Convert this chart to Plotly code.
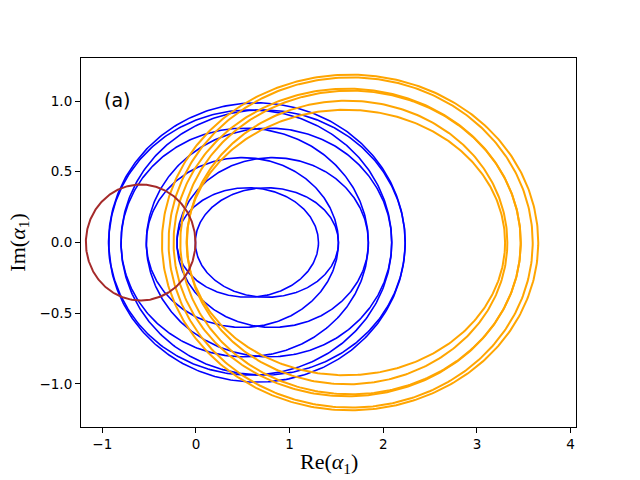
import numpy as np
import plotly.graph_objects as go

# Loop geometry: centre on Re axis, half-width, half-height
blue_center = [0.5525, 0.757, 0.4955, 0.819, 0.52, 0.78, 0.58, 0.717, 0.65]
blue_half_w = [0.7555, 0.764, 1.0255, 1.022, 1.32, 1.31, 1.51, 1.517, 1.583]
blue_half_h = [0.387, 0.387, 0.60, 0.60, 0.808, 0.808, 0.937, 0.937, 0.987]

orange_center = [1.6455, 1.6515, 1.614, 1.65, 1.614, 1.60]
orange_half_w = [2.0085, 1.9435, 1.853, 1.817, 1.71, 1.70]
orange_half_h = [1.186, 1.167, 1.087, 1.073, 1.002, 0.938]

brown_center = [-0.59]
brown_half_w = [0.585]
brown_half_h = [0.41]

x_ticks = [-1, 0, 1, 2, 3, 4]
y_ticks = [-1.0, -0.5, 0.0, 0.5, 1.0]

theta = np.linspace(0, 2 * np.pi, 400)


def loops(cs, aws, bhs):
    xs, ys = [], []
    for c, a, b in zip(cs, aws, bhs):
        xs += list(c + a * np.cos(theta)) + [None]
        ys += list(b * np.sin(theta)) + [None]
    return xs, ys


fig = go.Figure()
bx, by = loops(blue_center, blue_half_w, blue_half_h)
fig.add_trace(go.Scatter(x=bx, y=by, mode="lines", line=dict(color="#0000ff", width=1.6),
                         showlegend=False, hoverinfo="skip"))
ox, oy = loops(orange_center, orange_half_w, orange_half_h)
fig.add_trace(go.Scatter(x=ox, y=oy, mode="lines", line=dict(color="#ffa500", width=2.0),
                         showlegend=False, hoverinfo="skip"))
rx, ry = loops(brown_center, brown_half_w, brown_half_h)
fig.add_trace(go.Scatter(x=rx, y=ry, mode="lines", line=dict(color="#a52a2a", width=2.0),
                         showlegend=False, hoverinfo="skip"))

axis_common = dict(showgrid=False, zeroline=False, showline=True, linecolor="black",
                   linewidth=1.1, mirror=True, ticks="outside", ticklen=5, tickwidth=1.1,
                   tickcolor="black", tickfont=dict(family="DejaVu Sans", size=13.5, color="black"))

fig.update_layout(
    width=640, height=480,
    margin=dict(l=81, r=64, t=58, b=53),
    plot_bgcolor="white", paper_bgcolor="white",
    xaxis=dict(range=[-1.227, 4.057], tickvals=x_ticks,
               ticktext=[("\u2212" + str(-v)) if v < 0 else str(v) for v in x_ticks], **axis_common),
    yaxis=dict(range=[-1.304, 1.304], tickvals=y_ticks, tickformat=".1f", **axis_common),
    annotations=[
        dict(text="(a)", xref="paper", yref="paper", x=0.043, y=0.886, xanchor="left",
             yanchor="middle", showarrow=False, font=dict(family="DejaVu Sans", size=19, color="black")),
        dict(text="Re(<i>α</i><sub>1</sub>)", xref="paper", yref="paper", x=0.5, y=-0.098,
             xanchor="center", yanchor="middle", showarrow=False,
             font=dict(family="Liberation Serif", size=22, color="black")),
        dict(text="Im(<i>α</i><sub>1</sub>)", xref="paper", yref="paper", x=-0.127, y=0.5,
             xanchor="center", yanchor="middle", showarrow=False, textangle=-90,
             font=dict(family="Liberation Serif", size=22, color="black")),
    ],
)

fig.write_html("out.html", config={"displayModeBar": False},
               post_script="document.body.style.margin='0px';document.body.style.overflow='hidden';")
